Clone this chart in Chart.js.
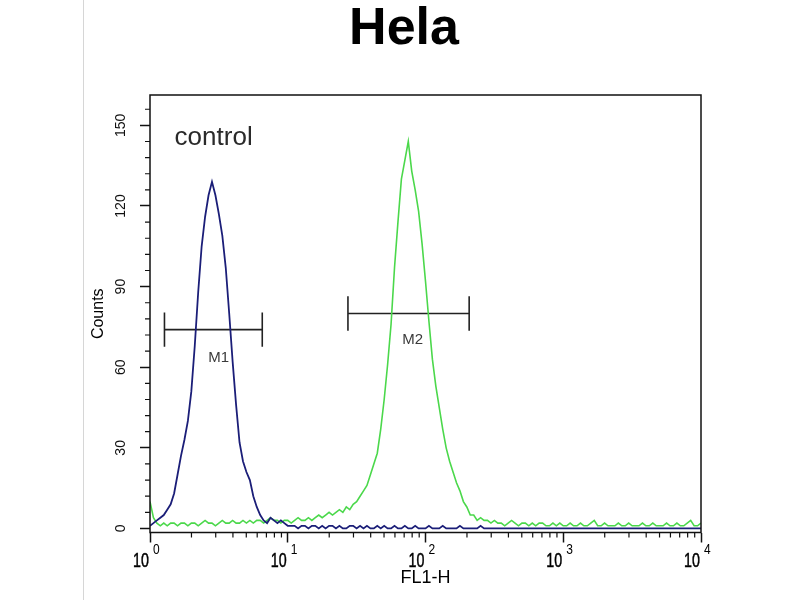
<!DOCTYPE html>
<html>
<head>
<meta charset="utf-8">
<title>Hela</title>
<script src="https://cdn.jsdelivr.net/npm/chart.js@4.4.1/dist/chart.umd.min.js"></script>
<style>
  html, body { margin: 0; padding: 0; background: #fff; }
  canvas { display: block; }
</style>
</head>
<body>
<canvas id="myChart" width="800" height="600"></canvas>
<script>
// FL1-H channel positions, in decades (10^0 .. 10^4)
const decades = [
  0, 0.025, 0.05, 0.075, 0.1, 0.125, 0.15, 0.175, 0.2, 0.225,
  0.25, 0.275, 0.3, 0.325, 0.35, 0.375, 0.4, 0.425, 0.45, 0.475,
  0.5, 0.525, 0.55, 0.575, 0.6, 0.625, 0.65, 0.675, 0.7, 0.725,
  0.75, 0.775, 0.8, 0.825, 0.85, 0.875, 0.9, 0.925, 0.95, 0.975,
  1, 1.025, 1.05, 1.075, 1.1, 1.125, 1.15, 1.175, 1.2, 1.225,
  1.25, 1.275, 1.3, 1.325, 1.35, 1.375, 1.4, 1.425, 1.45, 1.475,
  1.5, 1.525, 1.55, 1.575, 1.6, 1.625, 1.65, 1.675, 1.7, 1.725,
  1.75, 1.775, 1.8, 1.825, 1.85, 1.875, 1.9, 1.925, 1.95, 1.975,
  2, 2.025, 2.05, 2.075, 2.1, 2.125, 2.15, 2.175, 2.2, 2.225,
  2.25, 2.275, 2.3, 2.325, 2.35, 2.375, 2.4, 2.425, 2.45, 2.475,
  2.5, 2.525, 2.55, 2.575, 2.6, 2.625, 2.65, 2.675, 2.7, 2.725,
  2.75, 2.775, 2.8, 2.825, 2.85, 2.875, 2.9, 2.925, 2.95, 2.975,
  3, 3.025, 3.05, 3.075, 3.1, 3.125, 3.15, 3.175, 3.2, 3.225,
  3.25, 3.275, 3.3, 3.325, 3.35, 3.375, 3.4, 3.425, 3.45, 3.475,
  3.5, 3.525, 3.55, 3.575, 3.6, 3.625, 3.65, 3.675, 3.7, 3.725,
  3.75, 3.775, 3.8, 3.825, 3.85, 3.875, 3.9, 3.925, 3.95, 3.975,
  4
];

// control (blue)
const controlCounts = [
  1, 2, 3, 4, 5, 7, 9, 13, 20, 27,
  33, 40, 51, 68, 88, 105, 116, 124, 129, 124,
  117, 109, 97, 80, 62, 46, 32, 25, 21, 18,
  12, 8, 5, 3, 2, 4, 3, 2, 3, 2,
  1, 1, 1, 0, 1, 1, 0, 1, 1, 0,
  1, 0, 1, 1, 0, 1, 0, 0, 1, 1,
  0, 1, 0, 1, 0, 0, 1, 0, 1, 0,
  0, 1, 0, 0, 1, 0, 0, 1, 0, 0,
  0, 1, 0, 0, 0, 1, 0, 0, 0, 0,
  1, 0, 0, 0, 0, 0, 1, 0, 0, 0,
  0, 0, 0, 0, 0, 0, 0, 0, 0, 0,
  0, 0, 0, 0, 0, 0, 0, 0, 0, 0,
  0, 0, 0, 0, 0, 0, 0, 0, 0, 0,
  0, 0, 0, 0, 0, 0, 0, 0, 0, 0,
  0, 0, 0, 0, 0, 0, 0, 0, 0, 0,
  0, 0, 0, 0, 0, 0, 0, 0, 0, 0,
  0
];

// Hela stained (green)
const helaCounts = [
  10, 4, 2, 1, 2, 1, 2, 2, 1, 2,
  2, 1, 2, 2, 1, 2, 3, 2, 2, 1,
  2, 3, 2, 2, 3, 2, 2, 3, 2, 3,
  2, 3, 3, 2, 3, 4, 3, 3, 2, 3,
  3, 2, 3, 4, 3, 3, 4, 3, 4, 5,
  4, 5, 6, 5, 6, 7, 6, 8, 7, 9,
  10, 12, 14, 16, 20, 24, 28, 37, 48, 61,
  76, 97, 114, 130, 137, 144, 133, 126, 118, 106,
  92, 77, 63, 53, 45, 37, 30, 25, 21, 17,
  14, 10, 8, 5, 5, 3, 4, 3, 3, 2,
  3, 2, 2, 1, 2, 3, 2, 1, 2, 2,
  1, 2, 1, 2, 2, 1, 1, 2, 1, 2,
  1, 1, 2, 1, 1, 2, 1, 1, 2, 3,
  1, 1, 2, 1, 1, 1, 2, 1, 1, 2,
  1, 1, 1, 2, 1, 1, 2, 1, 1, 1,
  2, 1, 1, 2, 1, 1, 2, 3, 1, 1,
  2
];

const xTickPowers = [0, 1, 2, 3, 4];
const yTickLabels = [0, 30, 60, 90, 120, 150];

// marker gates: [from, to] in decades, level in counts
const m1Range = [0.105, 0.815];
const m2Range = [1.437, 2.317];
const markerLevels = [74, 80];
const markerCap = 6.4;

// free text on the plot: text, decade, count
const noteTexts = ['control', 'M1', 'M2'];
const noteAt = [[0.462, 145.3], [0.498, 63.6], [1.907, 70.2]];

const toPoints = counts => decades.map((d, i) => ({ x: d, y: counts[i] }));

function markerPoints(range, level) {
  const [a, b] = range;
  return [
    { x: a, y: level - markerCap }, { x: a, y: level + markerCap }, { x: a, y: null },
    { x: a, y: level }, { x: b, y: level }, { x: b, y: null },
    { x: b, y: level - markerCap }, { x: b, y: level + markerCap }
  ];
}

const decor = {
  id: 'decor',
  beforeDraw(chart) {
    const ctx = chart.ctx;
    ctx.save();
    ctx.strokeStyle = '#d6d6d6';
    ctx.lineWidth = 1;
    ctx.beginPath();
    ctx.moveTo(83.5, 0);
    ctx.lineTo(83.5, chart.height);
    ctx.stroke();
    ctx.restore();
  },
  afterDraw(chart) {
    const { ctx, chartArea: a } = chart;
    const x = chart.scales.x, y = chart.scales.y;
    ctx.save();
    ctx.strokeStyle = '#111';
    ctx.lineWidth = 1.5;
    ctx.strokeRect(a.left, a.top, a.right - a.left, a.bottom - a.top);

    // minor ticks
    ctx.lineWidth = 1.2;
    ctx.beginPath();
    for (let n = 0; n < 4; n++) {
      for (let k = 2; k <= 9; k++) {
        const px = x.getPixelForValue(n + Math.log10(k));
        ctx.moveTo(px, a.bottom);
        ctx.lineTo(px, a.bottom + 5);
      }
    }
    for (let v = 6; v < 160; v += 6) {
      if (v % 30 === 0) continue;
      const py = y.getPixelForValue(v);
      ctx.moveTo(a.left, py);
      ctx.lineTo(a.left - 5, py);
    }
    ctx.stroke();

    // x tick labels 10^n
    ctx.fillStyle = '#000';
    ctx.strokeStyle = '#000';
    ctx.lineWidth = 0.5;
    xTickPowers.forEach(p => {
      const px = x.getPixelForValue(p);
      ctx.save();
      ctx.translate(px - 1, a.bottom + 34.5);
      ctx.scale(0.68, 1);
      ctx.font = '21px "Liberation Sans", Arial, sans-serif';
      ctx.textAlign = 'right';
      ctx.textBaseline = 'alphabetic';
      ctx.fillText('10', 0, 0);
      ctx.strokeText('10', 0, 0);
      ctx.restore();
      ctx.save();
      ctx.translate(px + 3, a.bottom + 21);
      ctx.scale(0.8, 1);
      ctx.font = '15px "Liberation Sans", Arial, sans-serif';
      ctx.textAlign = 'left';
      ctx.textBaseline = 'alphabetic';
      ctx.fillText(String(p), 0, 0);
      ctx.restore();
    });

    // notes
    ctx.textAlign = 'center';
    ctx.textBaseline = 'middle';
    noteTexts.forEach((t, i) => {
      ctx.fillStyle = i === 0 ? '#2a2a2a' : '#3a3a3a';
      ctx.font = (i === 0 ? '26px' : '15px') + ' "Liberation Sans", Arial, sans-serif';
      ctx.fillText(t, x.getPixelForValue(noteAt[i][0]), y.getPixelForValue(noteAt[i][1]));
    });
    ctx.restore();
  }
};

Chart.defaults.font.family = '"Liberation Sans", Arial, sans-serif';

window.addEventListener('DOMContentLoaded', () => {
  const find = document.getElementById('myChart');
  new Chart(find, {
    type: 'line',
    data: {
      datasets: [
        {
          label: 'control',
          data: toPoints(controlCounts),
          borderColor: '#1b1e78',
          borderWidth: 1.8,
          pointRadius: 0,
          tension: 0
        },
        {
          label: 'Hela',
          data: toPoints(helaCounts),
          borderColor: '#4bd84b',
          borderWidth: 1.6,
          pointRadius: 0,
          tension: 0
        },
        {
          label: 'M1',
          data: markerPoints(m1Range, markerLevels[0]),
          borderColor: '#222',
          borderWidth: 1.6,
          pointRadius: 0,
          spanGaps: false
        },
        {
          label: 'M2',
          data: markerPoints(m2Range, markerLevels[1]),
          borderColor: '#222',
          borderWidth: 1.6,
          pointRadius: 0,
          spanGaps: false
        }
      ]
    },
    options: {
      responsive: false,
      animation: false,
      layout: { padding: { left: 8, right: 0, top: 0, bottom: 0 } },
      plugins: {
        legend: { display: false },
        tooltip: { enabled: false },
        title: {
          display: true,
          text: 'Hela',
          color: '#000',
          font: { size: 52, weight: 'bold', lineHeight: 1 },
          padding: { top: 4, bottom: 39 }
        }
      },
      scales: {
        x: {
          type: 'linear',
          min: 0,
          max: 4,
          afterBuildTicks(s) { s.ticks = xTickPowers.map(v => ({ value: v })); },
          afterFit(s) { s.height = 67.5; },
          ticks: { display: false },
          grid: { drawOnChartArea: false, drawTicks: true, tickLength: 10, tickColor: '#111', tickWidth: 1.5 },
          border: { display: false },
          title: {
            display: true,
            text: 'FL1-H',
            color: '#000',
            font: { size: 18 },
            padding: { top: 0, bottom: 11 }
          }
        },
        y: {
          type: 'linear',
          min: -1.5,
          max: 161.3,
          afterBuildTicks(s) { s.ticks = yTickLabels.map(v => ({ value: v })); },
          afterFit(s) { s.width = 142; },
          ticks: {
            minRotation: 90,
            maxRotation: 90,
            crossAlign: 'center',
            padding: 7,
            color: '#111',
            font: { size: 14 }
          },
          grid: { drawOnChartArea: false, drawTicks: true, tickLength: 10, tickColor: '#111', tickWidth: 1.5 },
          border: { display: false },
          title: {
            display: true,
            text: 'Counts',
            color: '#000',
            font: { size: 16 },
            padding: { top: 81, bottom: 0 }
          }
        },
        yR: {
          type: 'linear',
          position: 'right',
          display: true,
          ticks: { display: false },
          grid: { display: false },
          border: { display: false },
          afterFit(s) { s.width = 99; }
        }
      }
    },
    plugins: [decor]
  });
});
</script>
</body>
</html>
